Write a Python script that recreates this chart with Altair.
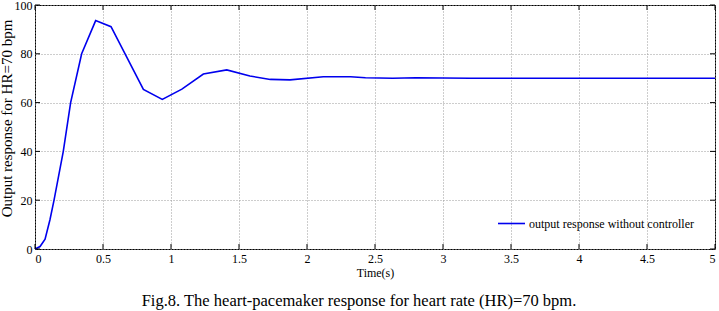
import altair as alt
import pandas as pd

# Data
time_s = [0, 0.037, 0.074, 0.11, 0.14, 0.208, 0.262, 0.343, 0.446, 0.559, 0.797,
          0.936, 1.08, 1.238, 1.41, 1.58, 1.73, 1.875, 2.12, 2.32, 2.43, 2.63,
          2.8, 3.2, 5.0]
output_hr = [0, 1, 4, 12, 20, 40, 60, 80, 93.6, 91.1, 65.4,
             61.3, 65.5, 71.7, 73.4, 70.9, 69.5, 69.3, 70.6, 70.6, 70.2, 70.0,
             70.2, 70.0, 70.0]
series_name = "output response without controller"
x_ticks = [0, 0.5, 1, 1.5, 2, 2.5, 3, 3.5, 4, 4.5, 5]
y_ticks = [0, 20, 40, 60, 80, 100]
caption = "Fig.8. The heart-pacemaker response for heart rate (HR)=70 bpm."

FONT = "Liberation Serif"
W, H = 680, 244

df = pd.DataFrame({"t": time_s, "v": output_hr, "s": [series_name] * len(time_s)})
xt = pd.DataFrame({"t": x_ticks})
yt = pd.DataFrame({"v": y_ticks})

xscale = alt.Scale(domain=[0, 5], nice=False, zero=False)
yscale = alt.Scale(domain=[0, 100], nice=False)
xaxis = alt.Axis(values=x_ticks, title="Time(s)", grid=True,
                 labelExpr="datum.value", titleY=18, titleBaseline="top",
                 labelPadding=4)
yaxis = alt.Axis(values=y_ticks, title="Output response for HR=70 bpm",
                 grid=True, titleX=-21, titleY=113, titleFontSize=15,
                 titleBaseline="bottom", labelPadding=3)

line = alt.Chart(df).mark_line(strokeWidth=1.6).encode(
    x=alt.X("t:Q", scale=xscale, axis=xaxis),
    y=alt.Y("v:Q", scale=yscale, axis=yaxis),
    color=alt.Color("s:N", scale=alt.Scale(domain=[series_name], range=["#0000ee"]),
                    legend=alt.Legend(title=None, orient="none", legendX=462, legendY=204,
                                      symbolType="stroke", symbolSize=730,
                                      symbolStrokeWidth=1.6, labelFont=FONT,
                                      labelFontSize=12, labelColor="black",
                                      labelOffset=3, padding=0, labelLimit=400)),
)

tick_b = alt.Chart(xt).mark_rule(color="black", strokeWidth=1).encode(
    x=alt.X("t:Q", scale=xscale, axis=xaxis), y=alt.value(H), y2=alt.value(H - 5))
tick_t = alt.Chart(xt).mark_rule(color="black", strokeWidth=1).encode(
    x=alt.X("t:Q", scale=xscale, axis=xaxis), y=alt.value(0), y2=alt.value(5))
tick_l = alt.Chart(yt).mark_rule(color="black", strokeWidth=1).encode(
    y=alt.Y("v:Q", scale=yscale, axis=yaxis), x=alt.value(0), x2=alt.value(5))
tick_r = alt.Chart(yt).mark_rule(color="black", strokeWidth=1).encode(
    y=alt.Y("v:Q", scale=yscale, axis=yaxis), x=alt.value(W), x2=alt.value(W - 5))

cap = alt.Chart(pd.DataFrame({"c": [caption]})).mark_text(
    font=FONT, fontSize=16.5, color="black", align="center", baseline="alphabetic"
).encode(text="c:N", x=alt.value(324), y=alt.value(301))

chart = alt.layer(line, tick_b, tick_t, tick_l, tick_r, cap).properties(
    width=W, height=H,
    autosize=alt.AutoSizeParams(type="none"),
    padding={"left": 35, "top": 5, "right": 4, "bottom": 62},
    background="white",
).configure_view(stroke="black", strokeWidth=1).configure_axis(
    labelFont=FONT, labelFontSize=12, labelColor="black",
    titleFont=FONT, titleFontSize=12, titleFontWeight="normal", titleColor="black",
    tickSize=0, domain=False,
    gridColor="#9a9a9a", gridDash=[1, 2], gridWidth=1, gridOpacity=1,
)

chart.save("out.html", embed_options={"renderer": "svg", "actions": False})
